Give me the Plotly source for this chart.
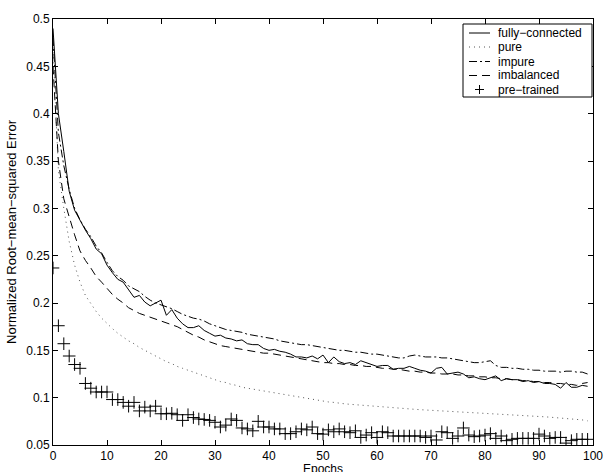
import plotly.graph_objects as go

epochs = list(range(100))

fully_connected = [
    0.490, 0.400, 0.360, 0.318, 0.298, 0.287, 0.277, 0.268, 0.257, 0.252,
    0.240, 0.232, 0.225, 0.222, 0.214, 0.206, 0.208, 0.201, 0.197, 0.200,
    0.203, 0.187, 0.193, 0.184, 0.178, 0.174, 0.174, 0.176, 0.171, 0.168,
    0.165, 0.166, 0.163, 0.162, 0.160, 0.161, 0.157, 0.156, 0.156, 0.152,
    0.150, 0.151, 0.149, 0.148, 0.146, 0.143, 0.143, 0.142, 0.144, 0.141,
    0.145, 0.137, 0.143, 0.138, 0.136, 0.137, 0.135, 0.139, 0.137, 0.135,
    0.133, 0.134, 0.134, 0.130, 0.131, 0.131, 0.133, 0.131, 0.129, 0.128,
    0.126, 0.131, 0.132, 0.125, 0.126, 0.127, 0.125, 0.121, 0.122, 0.120,
    0.119, 0.121, 0.123, 0.118, 0.120, 0.119, 0.119, 0.117, 0.118, 0.116,
    0.117, 0.115, 0.115, 0.114, 0.110, 0.116, 0.111, 0.111, 0.113, 0.112,
]

pure = [
    0.470, 0.340, 0.300, 0.265, 0.240, 0.222, 0.208, 0.199, 0.191, 0.184,
    0.178, 0.173, 0.168, 0.164, 0.160, 0.157, 0.153, 0.150, 0.147, 0.144,
    0.141, 0.138, 0.136, 0.133, 0.131, 0.129, 0.127, 0.125, 0.123, 0.121,
    0.119, 0.117, 0.116, 0.114, 0.113, 0.111, 0.110, 0.109, 0.108, 0.107,
    0.106, 0.105, 0.104, 0.103, 0.102, 0.101, 0.100, 0.099, 0.098, 0.097,
    0.096, 0.0955, 0.095, 0.094, 0.0935, 0.093, 0.0925, 0.092, 0.0915, 0.091,
    0.0905, 0.090, 0.0895, 0.089, 0.0887, 0.0883, 0.088, 0.0877, 0.0873, 0.087,
    0.0867, 0.0863, 0.086, 0.0857, 0.0854, 0.0851, 0.0848, 0.0845, 0.0842, 0.0839,
    0.0836, 0.0833, 0.083, 0.0827, 0.0824, 0.0821, 0.0818, 0.0814, 0.081, 0.0806,
    0.0802, 0.0798, 0.0794, 0.079, 0.0785, 0.078, 0.0775, 0.077, 0.0765, 0.0755,
]

impure = [
    0.480, 0.380, 0.345, 0.320, 0.300, 0.288, 0.278, 0.270, 0.260, 0.253,
    0.243, 0.234, 0.228, 0.224, 0.218, 0.215, 0.212, 0.207, 0.203, 0.200,
    0.198, 0.196, 0.194, 0.191, 0.188, 0.186, 0.184, 0.183, 0.181, 0.178,
    0.176, 0.174, 0.172, 0.171, 0.170, 0.169, 0.167, 0.166, 0.165, 0.164,
    0.163, 0.162, 0.160, 0.159, 0.158, 0.157, 0.156, 0.156, 0.155, 0.154,
    0.153, 0.152, 0.151, 0.150, 0.150, 0.149, 0.148, 0.148, 0.147, 0.146,
    0.146, 0.145, 0.144, 0.143, 0.142, 0.142, 0.144, 0.145, 0.144, 0.143,
    0.143, 0.143, 0.142, 0.142, 0.141, 0.140, 0.139, 0.138, 0.137, 0.137,
    0.138, 0.139, 0.134, 0.132, 0.132, 0.131, 0.131, 0.130, 0.130, 0.129,
    0.129, 0.128, 0.128, 0.128, 0.127, 0.128, 0.128, 0.127, 0.127, 0.125,
]

imbalanced = [
    0.450, 0.350, 0.310, 0.290, 0.272, 0.255, 0.245, 0.237, 0.228, 0.222,
    0.215, 0.209, 0.204, 0.200, 0.195, 0.192, 0.189, 0.187, 0.185, 0.183,
    0.181, 0.179, 0.177, 0.175, 0.172, 0.169, 0.166, 0.164, 0.161, 0.159,
    0.157, 0.155, 0.154, 0.153, 0.152, 0.151, 0.150, 0.149, 0.148, 0.147,
    0.147, 0.146, 0.145, 0.144, 0.143, 0.142, 0.141, 0.140, 0.139, 0.138,
    0.137, 0.137, 0.136, 0.136, 0.135, 0.135, 0.134, 0.134, 0.133, 0.133,
    0.132, 0.131, 0.131, 0.130, 0.130, 0.129, 0.128, 0.128, 0.127, 0.127,
    0.126, 0.126, 0.125, 0.125, 0.125, 0.124, 0.124, 0.123, 0.123, 0.122,
    0.122, 0.121, 0.121, 0.120, 0.120, 0.119, 0.119, 0.118, 0.118, 0.117,
    0.117, 0.116, 0.116, 0.115, 0.115, 0.114, 0.114, 0.113, 0.115, 0.116,
]

pre_trained = [
    0.237, 0.176, 0.157, 0.144, 0.135, 0.131, 0.115, 0.110, 0.106, 0.106,
    0.106, 0.098, 0.098, 0.095, 0.091, 0.095, 0.086, 0.090, 0.086, 0.091,
    0.083, 0.083, 0.0835, 0.082, 0.076, 0.082, 0.079, 0.0775, 0.077, 0.076,
    0.074, 0.069, 0.071, 0.0775, 0.076, 0.068, 0.067, 0.065, 0.075, 0.069,
    0.069, 0.067, 0.067, 0.062, 0.062, 0.064, 0.067, 0.066, 0.069, 0.062,
    0.0615, 0.066, 0.064, 0.067, 0.064, 0.063, 0.065, 0.058, 0.0605, 0.063,
    0.058, 0.064, 0.063, 0.0595, 0.0595, 0.0595, 0.0595, 0.0595, 0.0595, 0.058,
    0.0595, 0.0553, 0.064, 0.063, 0.057, 0.0595, 0.068, 0.0605, 0.0588, 0.0595,
    0.0605, 0.062, 0.057, 0.0595, 0.0546, 0.056, 0.057, 0.057, 0.057, 0.057,
    0.0615, 0.0595, 0.057, 0.058, 0.058, 0.052, 0.0546, 0.056, 0.056, 0.056,
]

series_names = ["fully\u2212connected", "pure", "impure", "imbalanced", "pre\u2212trained"]
x_ticks = list(range(0, 101, 10))
y_ticks = [0.05, 0.1, 0.15, 0.2, 0.25, 0.3, 0.35, 0.4, 0.45, 0.5]
y_tick_labels = ["0.05", "0.1", "0.15", "0.2", "0.25", "0.3", "0.35", "0.4", "0.45", "0.5"]
x_title = "Epochs"
y_title = "Normalized Root\u2212mean\u2212squared Error"

FONT = "Liberation Sans, Arial, sans-serif"
W, H = 604, 472
ML, MR, MT, MB = 53, 11, 19, 27
PW, PH = W - ML - MR, H - MT - MB

DASHES = ["solid", "1px,4px", "8px,3px,2px,3px", "8px,5px"]
LINE_COLORS = ["black", "#555555", "black", "black"]

fig = go.Figure()
for name, ys, dash, col in zip(series_names[:4], [fully_connected, pure, impure, imbalanced], DASHES, LINE_COLORS):
    fig.add_trace(go.Scatter(x=epochs, y=ys, mode="lines", name=name, showlegend=False,
                             line=dict(color=col, width=1, dash=dash)))
fig.add_trace(go.Scatter(x=epochs, y=pre_trained, mode="markers", name=series_names[4], showlegend=False,
                         marker=dict(symbol="cross-thin", size=9, color="black",
                                     line=dict(width=1, color="black"))))

axis_common = dict(
    showline=True, linecolor="black", linewidth=1, mirror="ticks",
    ticks="inside", ticklen=5, tickcolor="black", tickwidth=1,
    showgrid=False, zeroline=False, automargin=False,
    tickfont=dict(family=FONT, size=12, color="black"),
)

fig.update_xaxes(range=[0, 100], tickvals=x_ticks, **axis_common)
fig.update_yaxes(range=[0.05, 0.5], tickvals=y_ticks, ticktext=y_tick_labels,
                 title=dict(text=y_title, font=dict(family=FONT, size=13, color="black"), standoff=6),
                 **axis_common)

# helpers: page pixels -> paper coordinates
def px(xp):
    return (xp - ML) / PW

def py(yp):
    return (H - MB - yp) / PH

shapes = [dict(type="rect", xref="paper", yref="paper",
               x0=px(463), x1=px(592), y0=py(97), y1=py(24),
               line=dict(color="black", width=1), fillcolor="white", layer="above")]
annotations = [dict(xref="paper", yref="paper", x=0.5, y=py(468.5), xanchor="center", yanchor="middle",
                    text=x_title, showarrow=False, font=dict(family=FONT, size=12, color="black"))]
rows = [33, 47, 61.5, 75.5, 89.5]
for i, (name, yrow) in enumerate(zip(series_names, rows)):
    if i < 4:
        shapes.append(dict(type="line", xref="paper", yref="paper",
                           x0=px(469), x1=px(490), y0=py(yrow), y1=py(yrow),
                           line=dict(color=LINE_COLORS[i], width=1, dash=DASHES[i]), layer="above"))
    else:
        shapes.append(dict(type="line", xref="paper", yref="paper",
                           x0=px(475), x1=px(484), y0=py(yrow), y1=py(yrow),
                           line=dict(color="black", width=1), layer="above"))
        shapes.append(dict(type="line", xref="paper", yref="paper",
                           x0=px(479.5), x1=px(479.5), y0=py(yrow - 4.5), y1=py(yrow + 4.5),
                           line=dict(color="black", width=1), layer="above"))
    annotations.append(dict(xref="paper", yref="paper", x=px(496), y=py(yrow),
                            xanchor="left", yanchor="middle", text=name, showarrow=False,
                            font=dict(family=FONT, size=12, color="black")))

fig.update_layout(
    width=W, height=H,
    margin=dict(l=ML, r=MR, t=MT, b=MB),
    paper_bgcolor="white", plot_bgcolor="white",
    font=dict(family=FONT, size=12, color="black"),
    showlegend=False,
    shapes=shapes, annotations=annotations,
)

fig.write_html(
    "out.html",
    config={"displayModeBar": False},
    post_script="document.body.style.margin='0';document.body.style.overflow='hidden';",
)
